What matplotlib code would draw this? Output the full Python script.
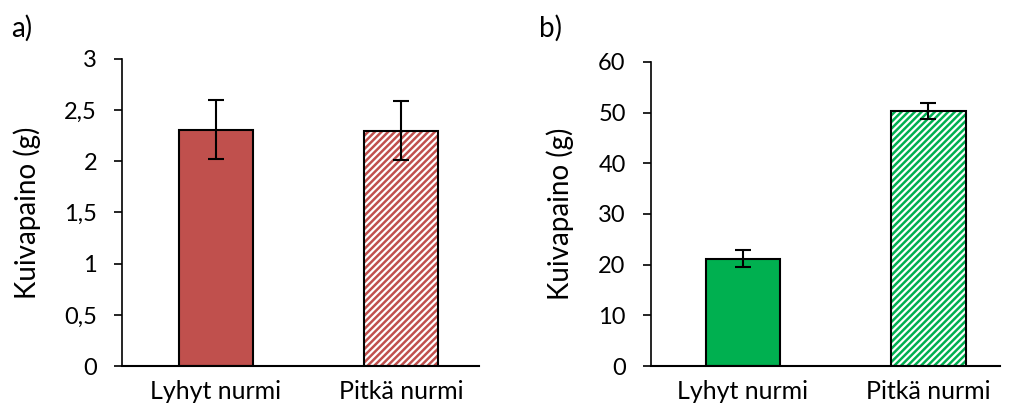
import numpy as np
import matplotlib.pyplot as plt

plt.rcParams['font.family'] = ['Lato', 'DejaVu Sans']
plt.rcParams['hatch.linewidth'] = 1.8

categories = ['Lyhyt nurmi', 'Pitkä nurmi']

# a) kuivapaino
values_a = [2.31, 2.30]
errors_a = [0.29, 0.29]
ticks_a = [0, 0.5, 1, 1.5, 2, 2.5, 3]
ticklabels_a = ['0', '0,5', '1', '1,5', '2', '2,5', '3']

# b) kuivapaino
values_b = [21.2, 50.3]
errors_b = [1.6, 1.5]
ticks_b = [0, 10, 20, 30, 40, 50, 60]
ticklabels_b = ['0', '10', '20', '30', '40', '50', '60']

red = '#C0504D'
green = '#00B050'

fig = plt.figure(figsize=(10.12, 4.15), dpi=100)
ax1 = fig.add_axes([0.1206, 0.118, 0.353, 0.740])
ax2 = fig.add_axes([0.643, 0.118, 0.345, 0.733])


def draw(ax, values, errors, color, ticks, labels, xlim, panel, px):
    x = np.arange(len(values))
    # eka palkki tavallinen
    ax.bar(x[0], values[0], width=0.4, color=color, edgecolor='black', linewidth=1.5, zorder=2)
    # toka palkki raidallinen
    ax.bar(x[1], values[1], width=0.4, color='white', edgecolor=color, hatch='/////',
           linewidth=0, zorder=2)
    ax.bar(x[1], values[1], width=0.4, fill=False, edgecolor='black', linewidth=1.5, zorder=3)
    ax.errorbar(x, values, yerr=errors, fmt='none', ecolor='black', elinewidth=1.5,
                capsize=6, capthick=1.5, zorder=4)
    ax.set_xlim(*xlim)
    ax.set_ylim(ticks[0], ticks[-1])
    ax.set_yticks(ticks)
    ax.set_yticklabels(labels)
    ax.set_xticks(x)
    ax.set_xticklabels(categories)
    ax.tick_params(axis='x', length=0, labelsize=18, pad=10)
    ax.tick_params(axis='y', length=6, width=1.2, labelsize=17, pad=12)
    ax.spines['top'].set_visible(False)
    ax.spines['right'].set_visible(False)
    ax.spines['left'].set_linewidth(1.2)
    ax.spines['bottom'].set_linewidth(1.5)
    ax.set_ylabel('Kuivapaino (g)', fontsize=20, labelpad=17)
    fig.text(px, 0.9, panel, fontsize=20, va='bottom')


draw(ax1, values_a, errors_a, red, ticks_a, ticklabels_a, (-0.505, 1.42), 'a)', 0.011)
draw(ax2, values_b, errors_b, green, ticks_b, ticklabels_b, (-0.496, 1.385), 'b)', 0.533)

fig.savefig('out.png', dpi=100)
